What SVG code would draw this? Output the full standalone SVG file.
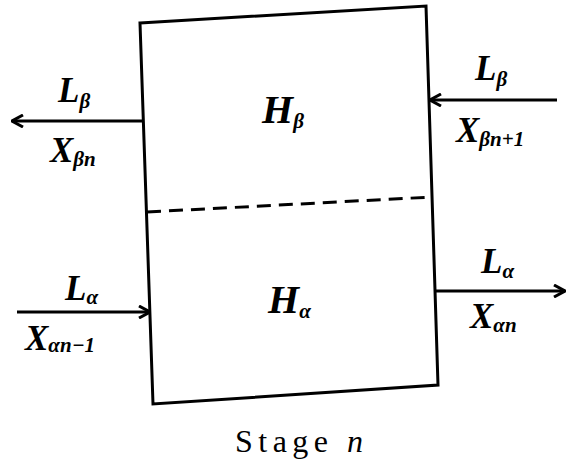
<svg xmlns="http://www.w3.org/2000/svg" width="566" height="463" viewBox="0 0 566 463">
<style>
.t{font-family:"Liberation Serif","Times New Roman",Tinos,Times,"DejaVu Serif","Noto Serif",serif;font-style:italic;font-weight:bold;fill:#000}
.s{font-size:21px}
.b{font-size:35px}
.h{font-size:40px}
.st{font-family:"Liberation Serif","Times New Roman",Tinos,Times,"DejaVu Serif","Noto Serif",serif;font-size:32px;fill:#000}
.ln{stroke:#000;stroke-width:3;fill:none}
</style>
<defs>
<marker id="ah" viewBox="0 0 14 14" refX="13" refY="7" markerWidth="14" markerHeight="14" markerUnits="userSpaceOnUse" orient="auto">
<path d="M2,1 L13,7 L2,13" fill="none" stroke="#000" stroke-width="3"/>
</marker>
</defs>
<rect width="566" height="463" fill="#fff"/>
<g id="stage">
<polygon class="ln" points="140,23 426,6 438,385 153,404"/>
<line x1="147" y1="212" x2="432" y2="197" stroke="#000" stroke-width="3" stroke-dasharray="14,8"/>
<text class="t h" x="262" y="123">H<tspan class="s" dy="5">β</tspan></text>
<text class="t h" x="268" y="313">H<tspan class="s" dy="5">α</tspan></text>
<text class="st" x="235" y="452" textLength="128">Stage <tspan font-style="italic">n</tspan></text>
</g>
<g id="connectors">
<line class="ln" x1="143" y1="121" x2="12" y2="121" marker-end="url(#ah)"/>
<line class="ln" x1="557" y1="100" x2="430" y2="100" marker-end="url(#ah)"/>
<line class="ln" x1="17" y1="312" x2="150" y2="312" marker-end="url(#ah)"/>
<line class="ln" x1="435" y1="291" x2="565" y2="291" marker-end="url(#ah)"/>
</g>
<g id="labels">
<text class="t b" x="58" y="102">L<tspan class="s" dy="6">β</tspan></text>
<text class="t b" x="50" y="162">X<tspan class="s" dy="4">βn</tspan></text>
<text class="t b" x="475" y="80">L<tspan class="s" dy="6">β</tspan></text>
<text class="t b" x="456" y="142">X<tspan class="s" dy="4">βn+1</tspan></text>
<text class="t b" x="65" y="300">L<tspan class="s" dy="4">α</tspan></text>
<text class="t b" x="25" y="350">X<tspan class="s" dy="2">αn−1</tspan></text>
<text class="t b" x="481" y="273">L<tspan class="s" dy="5">α</tspan></text>
<text class="t b" x="470" y="328">X<tspan class="s" dy="4">αn</tspan></text>
</g>
</svg>
